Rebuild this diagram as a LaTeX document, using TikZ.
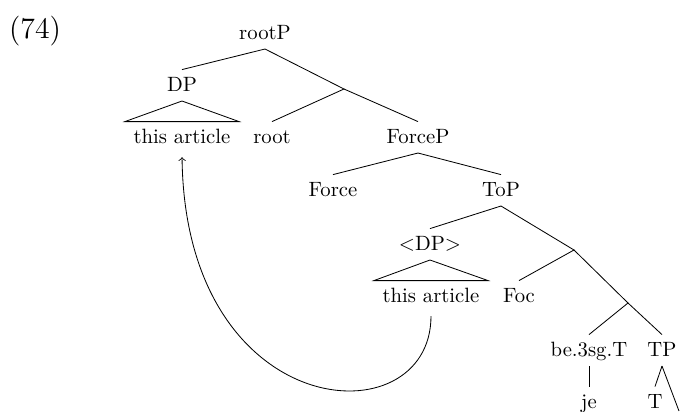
\documentclass[tikz,border=0pt]{standalone}
\begin{document}
\begin{tikzpicture}[x=0.4831pt, y=-0.4831pt,
  lbl/.style={anchor=base, text height=2ex, text depth=0.5ex, inner sep=2pt}]
\useasboundingbox (0,0) rectangle (680,412);
\node[font=\Large,anchor=base] (exnum) at (35,39) {(74)};
% tree labels
\node[lbl] (rootP) at (265,40) {rootP};
\node[lbl] (DP) at (182,92) {DP};
\coordinate (bar1) at (344,89);
\node[lbl,inner xsep=4pt] (art1) at (182,144) {this article};
\node[lbl] (root) at (272,144) {root};
\node[lbl] (ForceP) at (418,144) {ForceP};
\node[lbl] (Force) at (333,197) {Force};
\node[lbl] (ToP) at (501,197) {ToP};
\node[lbl] (tDP) at (430,251) {$<$DP$>$};
\coordinate (bar2) at (574,250);
\node[lbl,inner xsep=4pt] (art2) at (431,303) {this article};
\node[lbl] (Foc) at (519,303) {Foc};
\coordinate (bar3) at (628,303);
\node[lbl] (be) at (589,357) {be.3sg.T};
\node[lbl] (TP) at (662,357) {TP};
\node[lbl] (je) at (589,409) {je};
\node[lbl] (T) at (655,409) {T};
\coordinate (TPr) at (679,411);
% branches
\draw (rootP.south) -- (DP.north);
\draw (rootP.south) -- (bar1) -- (root.north);
\draw (bar1) -- (ForceP.north);
\draw (ForceP.south) -- (Force.north);
\draw (ForceP.south) -- (ToP.north);
\draw (ToP.south) -- (tDP.north);
\draw (ToP.south) -- (bar2) -- (Foc.north);
\draw (bar2) -- (bar3) -- (be.north);
\draw (bar3) -- (TP.north);
\draw (be.south) -- (je.north);
\draw (TP.south) -- (T.north);
\draw (TP.south) -- (TPr);
% triangles
\draw (DP.south) -- (art1.north west) -- (art1.north east) -- cycle;
\draw (tDP.south) -- (art2.north west) -- (art2.north east) -- cycle;
% movement
\draw[->,shorten <=2pt,shorten >=2pt] (art2.south) .. controls (431,440) and (185,425) .. (art1.south);
\end{tikzpicture}
\end{document}
